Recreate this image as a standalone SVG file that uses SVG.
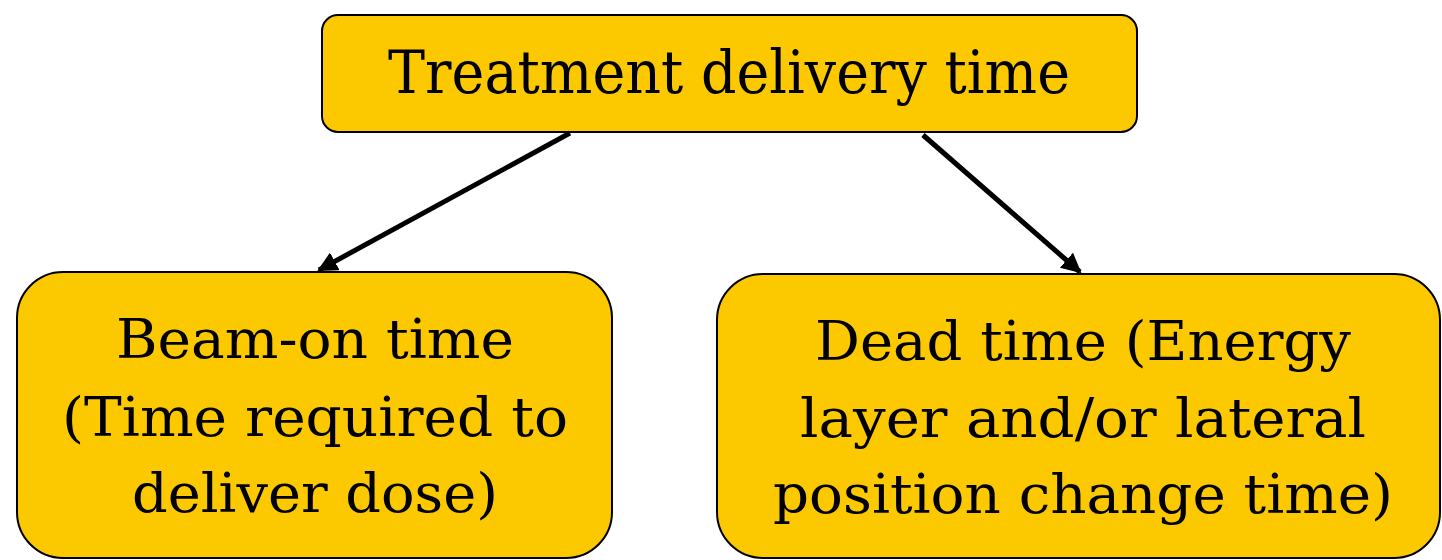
<svg xmlns="http://www.w3.org/2000/svg" width="1442" height="560" viewBox="0 0 1442 560">
<style>
.box{fill:#FCC800;stroke:#000;stroke-width:2}
.t{font-family:"DejaVu Serif","Liberation Serif",serif;fill:#000;text-anchor:middle}
.top{font-size:60px}
.bt{font-size:54px}
.conn{stroke:#000;stroke-width:5;fill:none}
</style>
<defs>
<marker id="ah" viewBox="0 0 10 10" refX="9" refY="5" markerWidth="4" markerHeight="4" orient="auto" markerUnits="strokeWidth">
<path d="M0,0 L10,5 L0,10 z" fill="#000"/>
</marker>
</defs>
<g id="node-top">
<rect class="box" x="322" y="15" width="815" height="117" rx="16"/>
<text class="t top" x="729" y="93" textLength="682" lengthAdjust="spacingAndGlyphs">Treatment delivery time</text>
</g>
<g id="node-beam">
<rect class="box" x="17" y="272" width="595" height="286" rx="46"/>
<text class="t bt" x="315" y="358" textLength="398" lengthAdjust="spacingAndGlyphs">Beam-on time</text>
<text class="t bt" x="315" y="436" textLength="506" lengthAdjust="spacingAndGlyphs">(Time required to</text>
<text class="t bt" x="315" y="512" textLength="366" lengthAdjust="spacingAndGlyphs">deliver dose)</text>
</g>
<g id="node-dead">
<rect class="box" x="717" y="274" width="723" height="284" rx="46"/>
<text class="t bt" x="1083" y="360" textLength="536" lengthAdjust="spacingAndGlyphs">Dead time (Energy</text>
<text class="t bt" x="1083" y="437" textLength="566" lengthAdjust="spacingAndGlyphs">layer and/or lateral</text>
<text class="t bt" x="1083" y="513" textLength="620" lengthAdjust="spacingAndGlyphs">position change time)</text>
</g>
<g id="connectors">
<line class="conn" x1="570" y1="133" x2="319" y2="270" marker-end="url(#ah)"/>
<line class="conn" x1="923" y1="135" x2="1080" y2="272" marker-end="url(#ah)"/>
</g>
</svg>
